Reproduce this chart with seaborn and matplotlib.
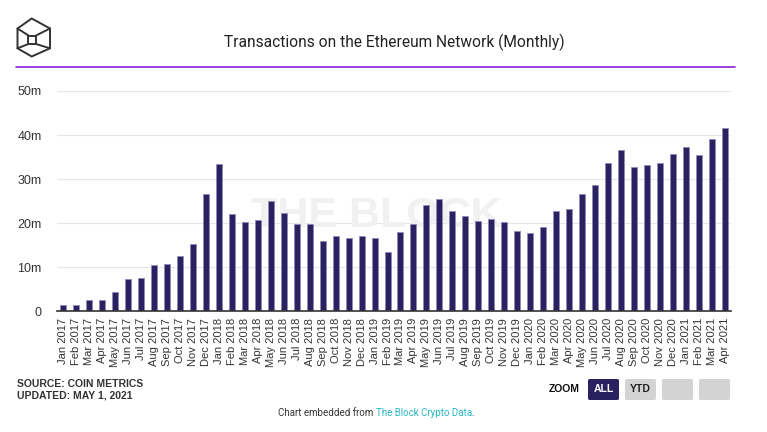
import numpy as np
import pandas as pd
import matplotlib
matplotlib.use("Agg")
import matplotlib.pyplot as plt
from matplotlib.patches import FancyBboxPatch, Polygon
import seaborn as sns

# Monthly transactions (millions), Jan 2017 - Apr 2021
months = pd.date_range("2017-01-01", "2021-04-01", freq="MS").strftime("%b %Y").tolist()
tx_millions = [
    1.3, 1.3, 2.5, 2.5, 4.3, 7.2, 7.6, 10.4, 10.7, 12.4, 15.2, 26.6,
    33.3, 22.0, 20.2, 20.6, 24.9, 22.2, 19.7, 19.7, 15.8, 17.0, 16.5, 17.0,
    16.5, 13.3, 17.9, 19.7, 24.2, 25.5, 22.7, 21.7, 20.4, 20.8, 20.2, 18.1,
    17.7, 19.0, 22.7, 23.1, 26.5, 28.6, 33.6, 36.5, 32.7, 33.1, 33.6, 35.6,
    37.2, 35.4, 39.0, 41.5,
]
y_ticks = [0, 10, 20, 30, 40, 50]
y_labels = ["0", "10m", "20m", "30m", "40m", "50m"]

df = pd.DataFrame({"month": months, "tx": tx_millions})

sns.set_style("white")
plt.rcParams["font.family"] = ["Liberation Sans", "DejaVu Sans"]

W, H = 767, 432
fig = plt.figure(figsize=(W / 100, H / 100), dpi=100)
ax = fig.add_axes([57 / W, (H - 311) / H, (731 - 57) / W, (311 - 91) / H])

# watermark (behind the bars)
ax.text(376 / W, 1 - 216 / H, "THE BLOCK", transform=fig.transFigure,
        ha="center", va="center", fontsize=31, fontweight="bold",
        color="#f1f1f1", zorder=1)

sns.barplot(data=df, x="month", y="tx", color="#2a2260", width=0.46,
            edgecolor="#8f89b8", linewidth=0.6, saturation=1, ax=ax, zorder=3)

ax.set_ylim(0, 50)
ax.set_xlim(-0.5, len(months) - 0.5)
ax.set_yticks(y_ticks)
ax.set_yticklabels(y_labels)
ax.yaxis.grid(True, color="#e6e6e6", linewidth=0.8)
ax.set_axisbelow(True)
ax.set_xlabel("")
ax.set_ylabel("")
for side in ["top", "right", "left"]:
    ax.spines[side].set_visible(False)
ax.spines["bottom"].set_color("#333333")
ax.spines["bottom"].set_linewidth(1.2)
ax.spines["bottom"].set_zorder(4)
ax.tick_params(axis="y", length=0, pad=11, labelsize=9, labelcolor="#333333")
ax.tick_params(axis="x", length=0, pad=5, labelsize=8, labelcolor="#333333",
               labelrotation=90)

# header
fig.text(394 / W, 1 - 42 / H, "Transactions on the Ethereum Network (Monthly)",
         ha="center", va="center", fontsize=11.2, color="#222222",
         family=["Roboto", "DejaVu Sans"])
fig.add_artist(plt.Line2D([16 / W, 735 / W], [1 - 67 / H, 1 - 67 / H],
                          color="#8a1fd6", linewidth=1.2))

# logo
def px(x, y):
    return (x / W, 1 - y / H)

hexagon = [px(31.7, 18.5), px(50, 28.5), px(50, 48.3), px(31.7, 56.5),
           px(17.5, 48.3), px(17.5, 28.5)]
fig.add_artist(Polygon(hexagon, closed=True, fill=False, edgecolor="#333333",
                       linewidth=1.4, transform=fig.transFigure))
inner = [px(28.5, 35.5), px(36, 35.5), px(36, 44), px(28.5, 44)]
fig.add_artist(Polygon(inner, closed=True, fill=False, edgecolor="#333333",
                       linewidth=1.4, transform=fig.transFigure))
for a, b in [((17.5, 28.5), (28.5, 35.5)), ((50, 28.5), (36, 35.5)),
             ((17.5, 48.3), (28.5, 44)), ((50, 48.3), (36, 44))]:
    p1, p2 = px(*a), px(*b)
    fig.add_artist(plt.Line2D([p1[0], p2[0]], [p1[1], p2[1]],
                              color="#333333", linewidth=1.4))

# source notes
fig.text(17 / W, 1 - 384 / H, "SOURCE: COIN METRICS", fontsize=7.5,
         fontweight="bold", color="#333333", va="center")
fig.text(17 / W, 1 - 396 / H, "UPDATED: MAY 1, 2021", fontsize=7.5,
         fontweight="bold", color="#333333", va="center")

# zoom buttons
fig.text(580 / W, 1 - 389 / H, "ZOOM", fontsize=7.5, fontweight="bold",
         color="#111111", ha="right", va="center")
buttons = [(588, "ALL", "#2a2260", "white"), (625, "YTD", "#d3d3d3", "#222222"),
           (662, "", "#d3d3d3", ""), (699, "", "#d3d3d3", "")]
for bx, lab, fc, tc in buttons:
    fig.add_artist(FancyBboxPatch((bx / W, 1 - 400 / H), 31 / W, 21 / H,
                                  boxstyle="round,pad=0,rounding_size=0.003",
                                  facecolor=fc, edgecolor="none",
                                  transform=fig.transFigure))
    if lab:
        fig.text((bx + 15.5) / W, 1 - 389.5 / H, lab, fontsize=7.5,
                 fontweight="bold", color=tc, ha="center", va="center")

# footer
foot_font = ["Roboto", "DejaVu Sans"]
t1 = fig.text(278 / W, 1 - 413 / H, "Chart embedded from ", fontsize=7,
              color="#333333", va="center", family=foot_font)
fig.canvas.draw()
bb = t1.get_window_extent()
t2 = fig.text(bb.x1 / W, 1 - 413 / H, "The Block Crypto Data", fontsize=7,
              color="#27b7c2", va="center", family=foot_font)
fig.canvas.draw()
bb2 = t2.get_window_extent()
fig.text((bb2.x1 - 1) / W, 1 - 413 / H, ".", fontsize=7, color="#333333",
         va="center", family=foot_font)

fig.savefig("out.png", dpi=100, facecolor="white")
